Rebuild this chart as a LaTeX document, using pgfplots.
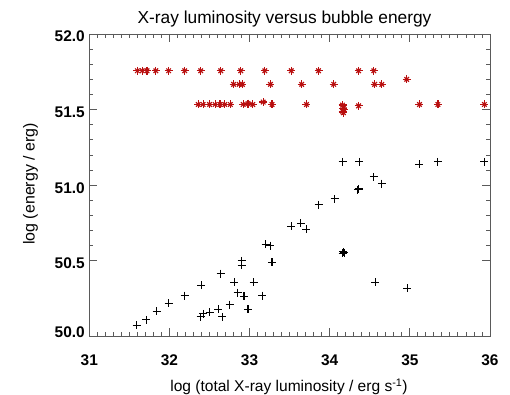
\documentclass[border=0pt]{standalone}
\usepackage{fontspec}
\setmainfont{Liberation Sans}
\usepackage{pgfplots}
\pgfplotsset{compat=1.18}
\definecolor{dred}{RGB}{185,15,15}
\definecolor{axgray}{RGB}{90,90,90}
\begin{document}
\begin{tikzpicture}
\pgfresetboundingbox
\path[use as bounding box] (0bp,0bp) rectangle (510bp,395bp);
\begin{axis}[
  at={(89.3bp,58.5bp)}, anchor=south west,
  scale only axis, width=400.7bp, height=302.5bp,
  xmin=31, xmax=36, ymin=50, ymax=52,
  xtick={31,32,33,34,35,36},
  ytick={50.5,51,51.5,52},
  extra y ticks={50},
  extra y tick style={yticklabel style={yshift=7.3bp}},
  minor x tick num=9, minor y tick num=4,
  tick align=inside,
  major tick length=8bp, minor tick length=4bp,
  axis line style={axgray, line width=1pt},
  every tick/.style={axgray, line width=0.9pt},
  xticklabel style={font=\fontsize{15.5}{18}\selectfont\bfseries, anchor=base, yshift=-28.5bp,
     /pgf/number format/assume math mode=true},
  yticklabel style={font=\fontsize{15.5}{18}\selectfont\bfseries, anchor=base east, yshift=-7.8bp, xshift=-1bp,
     /pgf/number format/fixed, /pgf/number format/fixed zerofill, /pgf/number format/precision=1,
     /pgf/number format/assume math mode=true},
  clip=false,
]
% black plus: bubble energy
\addplot[only marks, mark=+, mark size=4bp, black, mark options={line width=1.1pt}] coordinates {
(31.59,50.073) (31.71,50.11) (31.84,50.166) (31.99,50.22) (32.19,50.27)
(32.40,50.34) (32.64,50.415) (32.39,50.13) (32.42,50.15) (32.50,50.16)
(32.61,50.18) (32.66,50.13) (32.75,50.21) (32.81,50.36) (32.85,50.29)
(32.93,50.265) (32.90,50.50) (32.90,50.47) (32.98,50.18) (33.05,50.36)
(33.16,50.27) (33.20,50.61) (33.26,50.60) (33.28,50.49) (33.52,50.73)
(33.64,50.75) (33.71,50.71) (33.86,50.87) (34.06,50.91) (34.16,51.155)
(34.37,51.155) (34.35,50.97) (34.36,50.975) (34.55,51.055) (34.65,51.01)
(34.16,50.55) (34.17,50.56) (34.18,50.553) (34.57,50.36) (34.97,50.32)
(35.12,51.14) (35.35,51.155) (35.93,51.155)
};
% red asterisks
\pgfplotstableread{
x y
31.60 51.757
31.66 51.757
31.72 51.757
31.83 51.757
31.99 51.757
32.19 51.757
32.39 51.757
32.64 51.757
32.89 51.757
33.19 51.757
33.52 51.757
33.86 51.757
34.36 51.757
34.55 51.757
32.80 51.667
32.87 51.667
32.91 51.667
33.26 51.667
33.65 51.667
34.05 51.667
34.56 51.667
34.65 51.667
34.96 51.70
32.36 51.534
32.42 51.534
32.50 51.534
32.57 51.534
32.63 51.534
32.69 51.534
32.76 51.534
32.92 51.534
32.98 51.54
33.04 51.534
33.17 51.55
33.28 51.534
33.71 51.534
34.16 51.53
34.17 51.51
34.16 51.49
34.18 51.50
34.17 51.48
34.36 51.525
35.12 51.534
35.35 51.534
35.93 51.534
}\redtable
\addplot[only marks, mark=+, mark size=4bp, dred, mark options={line width=1.2pt}] table {\redtable};
\addplot[only marks, mark=x, mark size=3.2bp, dred, mark options={line width=1.2pt}] table {\redtable};
\end{axis}
\node[anchor=base, font=\fontsize{17.4}{20}\selectfont, inner sep=0pt] at (284.5bp,371bp) {X-ray luminosity versus bubble energy};
\node[anchor=base, font=\fontsize{15.6}{18}\selectfont, inner sep=0pt] at (289bp,3.6bp) {log (total X-ray luminosity / erg s\textsuperscript{-1})};
\node[anchor=base, rotate=90, font=\fontsize{16}{18}\selectfont, inner sep=0pt] at (34.5bp,211bp) {log (energy / erg)};
\end{tikzpicture}
\end{document}
